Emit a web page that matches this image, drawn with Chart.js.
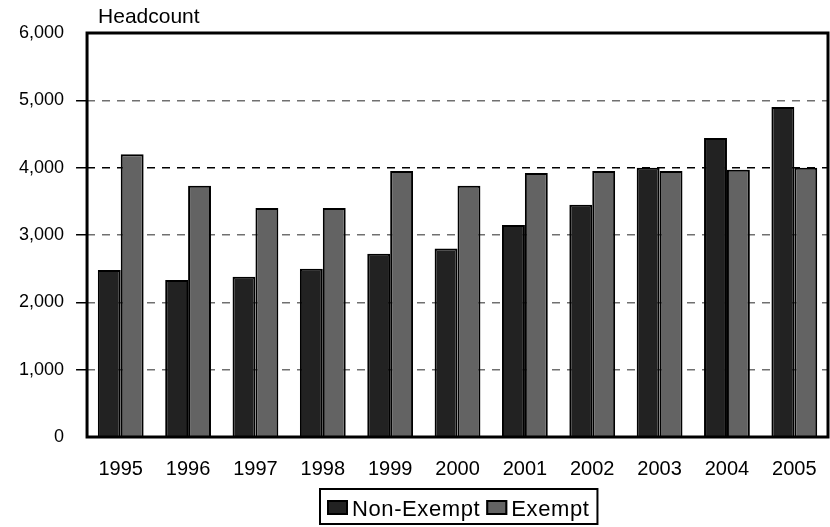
<!DOCTYPE html>
<html>
<head>
<meta charset="utf-8">
<script src="https://cdn.jsdelivr.net/npm/chart.js@4"></script>
<style>
  html, body { margin: 0; padding: 0; background: #fff; }
  #wrap { width: 830px; height: 527px; }
</style>
</head>
<body>
<div id="wrap"><canvas id="c"></canvas></div>
<script>
const years = ["1995", "1996", "1997", "1998", "1999", "2000", "2001", "2002", "2003", "2004", "2005"];
const nonExempt = [2480, 2330, 2380, 2500, 2720, 2800, 3150, 3450, 4000, 4440, 4900];
const exempt = [4200, 3730, 3400, 3400, 3950, 3730, 3920, 3950, 3950, 3970, 4000];
const yTicks = [0, 1000, 2000, 3000, 4000, 5000, 6000];

const FONT = "'Liberation Sans', Arial, Helvetica, sans-serif";

// frame round the plot area, "Headcount" label, and a boxed legend under the axis
const extras = {
  id: "extras",
  afterDraw(chart) {
    const ctx = chart.ctx;
    const a = chart.chartArea;
    ctx.save();
    ctx.strokeStyle = "#000";
    ctx.lineWidth = 3;
    ctx.strokeRect(a.left, a.top, a.right - a.left, a.bottom - a.top);

    ctx.fillStyle = "#000";
    ctx.font = "21px " + FONT;
    ctx.textBaseline = "alphabetic";
    ctx.textAlign = "left";
    ctx.fillText("Headcount", a.left + 11, a.top - 10);

    // legend
    ctx.font = "22px " + FONT;
    ctx.letterSpacing = "0.6px";
    const sets = chart.data.datasets;
    const boxW = 21, boxH = 15, gapText = 4, gapItem = 6;
    const widths = sets.map(d => boxW + gapText + ctx.measureText(d.label).width);
    const total = widths.reduce((s, w) => s + w, 0) + gapItem * (sets.length - 1);
    const left = 320, top = 489, padL = 7, padR = 8;
    const frameW = total + padL + padR;
    ctx.lineWidth = 2;
    ctx.strokeRect(left, top, frameW, 35);
    let x = left + padL;
    sets.forEach((d, i) => {
      ctx.fillStyle = d.backgroundColor;
      ctx.fillRect(x, top + 11, boxW, boxH);
      ctx.lineWidth = 2;
      ctx.strokeRect(x + 1, top + 12, boxW - 2, boxH - 2);
      ctx.fillStyle = "#000";
      ctx.fillText(d.label, x + boxW + gapText, top + 27);
      x += widths[i] + gapItem;
    });
    ctx.letterSpacing = "0px";
    ctx.restore();
  }
};

new Chart(document.getElementById("c"), {
  type: "bar",
  data: {
    labels: years,
    datasets: [
      { label: "Non-Exempt", data: nonExempt, backgroundColor: "#222222", borderColor: "#000", borderWidth: 2 },
      { label: "Exempt", data: exempt, backgroundColor: "#636363", borderColor: "#000", borderWidth: 2 }
    ]
  },
  options: {
    responsive: true,
    maintainAspectRatio: false,
    animation: false,
    layout: { padding: { top: 33, right: 2, left: 7, bottom: 36 } },
    datasets: { bar: { categoryPercentage: 0.68, barPercentage: 1 } },
    plugins: {
      title: { display: false },
      tooltip: { enabled: false },
      legend: { display: false }
    },
    scales: {
      x: {
        grid: { display: false, drawOnChartArea: false, tickLength: 10, tickColor: "#000" },
        border: { display: false },
        ticks: { font: { family: FONT, size: 20 }, color: "#000", padding: 10, maxRotation: 0 }
      },
      y: {
        min: 0,
        max: 6000,
        afterBuildTicks(axis) { axis.ticks = yTicks.map(v => ({ value: v })); },
        grid: {
          color: ctx => (ctx.tick && ctx.tick.value === 4000 ? "#000" : "#707070"),
          lineWidth: ctx => (ctx.tick && (ctx.tick.value === 0 || ctx.tick.value === 6000) ? 0 : 1.5),
          tickColor: "#000",
          tickLength: 11,
          tickBorderDash: [],
          drawTicks: true
        },
        border: { display: false, dash: [8, 7] },
        ticks: {
          font: { family: FONT, size: 18 },
          color: "#000",
          padding: 12,
          callback: v => v.toLocaleString("en-US")
        }
      }
    }
  },
  plugins: [extras]
});
</script>
</body>
</html>
